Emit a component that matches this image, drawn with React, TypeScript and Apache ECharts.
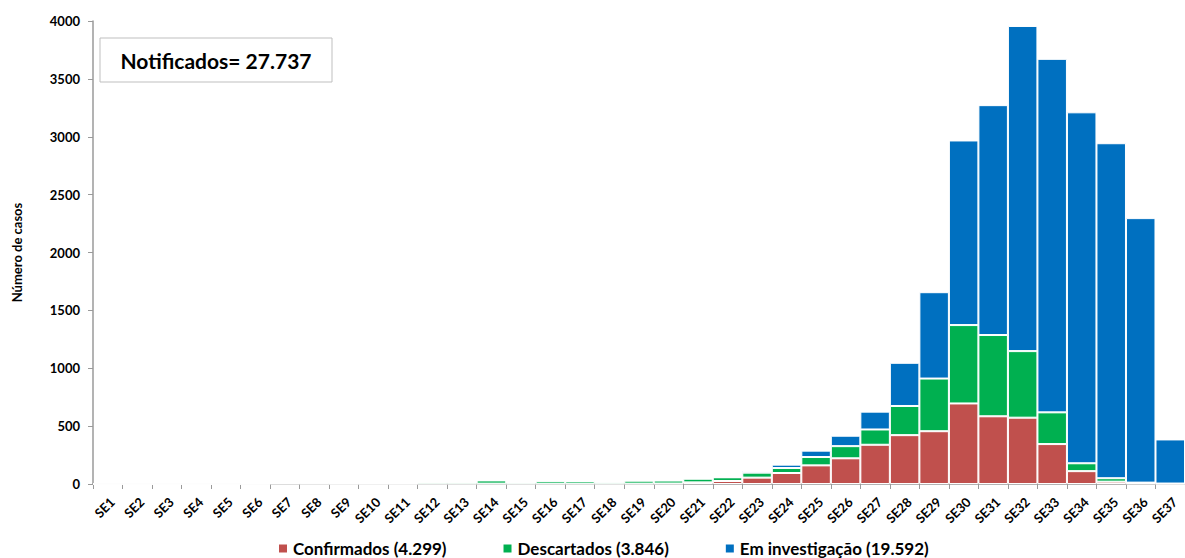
import React, { useEffect, useRef } from "react";
import * as echarts from "echarts";

const categories = [
  "SE1","SE2","SE3","SE4","SE5","SE6","SE7","SE8","SE9","SE10","SE11","SE12","SE13","SE14","SE15","SE16","SE17","SE18","SE19","SE20","SE21","SE22","SE23","SE24","SE25","SE26","SE27","SE28","SE29","SE30","SE31","SE32","SE33","SE34","SE35","SE36","SE37",
];
const confirmados = [0,0,0,0,0,0,3,1,1,1,1,2,2,3,2,3,3,2,3,4,14,26,55,95,161,222,339,422,456,696,585,573,345,111,20,5,2];
const descartados = [0,0,0,0,0,1,2,10,3,3,3,14,14,28,12,24,22,16,26,26,32,32,43,43,72,105,132,252,455,677,702,575,274,68,30,7,2];
const investigacao = [0,0,0,0,0,0,0,0,0,0,0,0,0,0,0,0,0,0,0,0,0,3,14,29,55,90,154,373,746,1595,1986,2809,3054,3032,2894,2285,381];
const seriesNames = ["Confirmados (4.299)", "Descartados (3.846)", "Em investigação (19.592)"];
const yTicks = [0, 500, 1000, 1500, 2000, 2500, 3000, 3500, 4000];
const totalLabel = "Notificados= 27.737";

const FONT = "Lato, 'Open Sans', sans-serif";

export default function App() {
  const ref = useRef<HTMLDivElement>(null);
  useEffect(() => {
    if (!ref.current) return;
    const chart = echarts.init(ref.current, null, { renderer: "svg" });
    const barBase = {
      type: "bar" as const,
      stack: "total",
      barCategoryGap: "0%",
      itemStyle: { borderColor: "#ffffff", borderWidth: 1 },
    };
    chart.setOption({
      animation: false,
      textStyle: { fontFamily: FONT },
      grid: { left: 93, right: -11, top: 21, bottom: 74, containLabel: false },
      legend: {
        top: 540,
        left: 277,
        padding: 0,
        itemGap: 55,
        itemWidth: 10,
        itemHeight: 10,
        icon: "rect",
        textStyle: { fontFamily: FONT, fontWeight: "bold", fontSize: 17, lineHeight: 17, color: "#000" },
        data: seriesNames,
      },
      xAxis: {
        type: "category",
        data: categories,
        axisLine: { lineStyle: { color: "#9a9a9a", width: 1.5 } },
        axisTick: { show: true, length: 5, lineStyle: { color: "#9a9a9a" } },
        axisLabel: {
          rotate: 45,
          interval: 0,
          fontFamily: FONT,
          fontWeight: "bold",
          fontSize: 13,
          color: "#000",
          margin: 11,
          align: "right",
          verticalAlign: "top",
        },
      },
      yAxis: {
        type: "value",
        min: 0,
        max: yTicks[yTicks.length - 1],
        interval: 500,
        name: "Número de casos",
        nameLocation: "middle",
        nameGap: 70,
        nameTextStyle: { fontFamily: FONT, fontWeight: "bold", fontSize: 13, color: "#000" },
        axisLine: { show: true, lineStyle: { color: "#9a9a9a", width: 1.5 } },
        axisTick: { show: true, length: 5, lineStyle: { color: "#9a9a9a" } },
        splitLine: { show: false },
        axisLabel: {
          fontFamily: FONT,
          fontWeight: "bold",
          fontSize: 13,
          color: "#000",
          margin: 13,
          formatter: (v: number) => String(v),
        },
      },
      graphic: [
        {
          type: "rect",
          shape: { x: 100, y: 38, width: 232, height: 44 },
          style: { fill: "#ffffff", stroke: "#bfbfbf", lineWidth: 1 },
          z: 10,
        },
        {
          type: "text",
          x: 216,
          y: 60,
          style: {
            text: totalLabel,
            fontFamily: FONT,
            fontWeight: "bold",
            fontSize: 21,
            fill: "#000",
            align: "center",
            verticalAlign: "middle",
          },
          z: 11,
        },
      ],
      series: [
        { ...barBase, name: seriesNames[0], data: confirmados, itemStyle: { ...barBase.itemStyle, color: "#C0504D" } },
        { ...barBase, name: seriesNames[1], data: descartados, itemStyle: { ...barBase.itemStyle, color: "#00B050" } },
        { ...barBase, name: seriesNames[2], data: investigacao, itemStyle: { ...barBase.itemStyle, color: "#0070C0" } },
      ],
    });
    return () => chart.dispose();
  }, []);
  return (
    <div
      ref={ref}
      style={{ position: "fixed", left: 0, top: 0, width: 1185, height: 558, background: "#fff" }}
    />
  );
}
